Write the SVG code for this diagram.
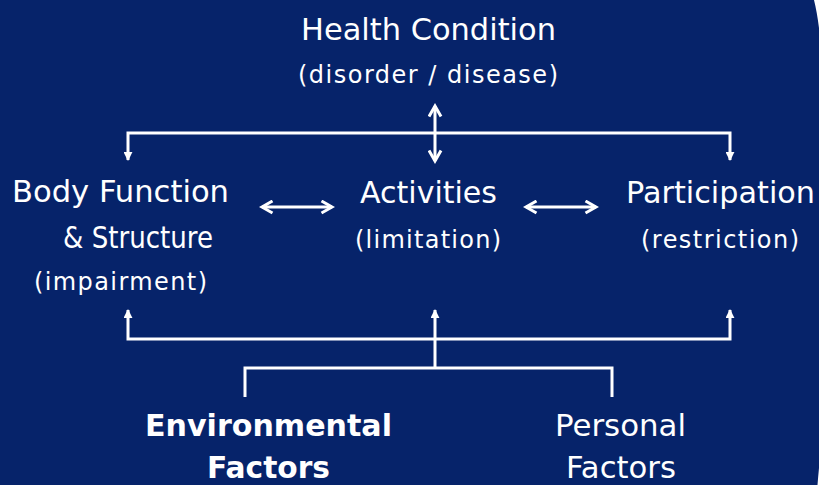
<svg xmlns="http://www.w3.org/2000/svg" width="819" height="485" viewBox="0 0 819 485">
<defs>
<style>
.t{font-family:"DejaVu Sans","Verdana",sans-serif;fill:#ffffff;text-anchor:middle}
.m{font-size:30px}
.s{font-size:24px}
.b{font-weight:bold}
.ln{stroke:#ffffff;stroke-width:3;fill:none}
</style>
<marker id="chev" viewBox="0 0 10 10" refX="8" refY="5" markerWidth="5" markerHeight="5" orient="auto-start-reverse" markerUnits="strokeWidth">
<path d="M1,1 L8,5 L1,9" fill="none" stroke="#ffffff" stroke-width="2"/>
</marker>
<marker id="tri" viewBox="0 0 10 10" refX="9" refY="5" markerWidth="3" markerHeight="3" orient="auto-start-reverse" markerUnits="strokeWidth">
<path d="M0,0 L10,5 L0,10 Z" fill="#ffffff"/>
</marker>
</defs>
<rect width="819" height="485" fill="#ffffff"/>
<path d="M0,0 H814 Q817,12 819,28 L822,28 L822,468 L819,468 Q818,478 817.5,485 H0 Z" fill="#06236A"/>
<g id="connectors">
<path class="ln" d="M128,160 V133 H730 V160" marker-start="url(#tri)" marker-end="url(#tri)"/>
<line class="ln" x1="435" y1="106" x2="435" y2="161" marker-start="url(#chev)" marker-end="url(#chev)"/>
<line class="ln" x1="262" y1="207" x2="332" y2="207" marker-start="url(#chev)" marker-end="url(#chev)"/>
<line class="ln" x1="526" y1="207" x2="596" y2="207" marker-start="url(#chev)" marker-end="url(#chev)"/>
<path class="ln" d="M128,310 V339 H730 V310" marker-start="url(#tri)" marker-end="url(#tri)"/>
<line class="ln" x1="435" y1="339" x2="435" y2="310" marker-end="url(#tri)"/>
<path class="ln" d="M435,339 V368"/>
<path class="ln" d="M245,397 V368 H612 V397"/>
</g>
<g id="health">
<text class="t m" x="428.5" y="40" textLength="255" lengthAdjust="spacingAndGlyphs">Health Condition</text>
<text class="t s" x="428" y="83" textLength="260" lengthAdjust="spacing">(disorder / disease)</text>
</g>
<g id="body">
<text class="t m" x="120.5" y="202" textLength="217" lengthAdjust="spacingAndGlyphs">Body Function</text>
<text class="t m" x="138" y="248" textLength="150" lengthAdjust="spacingAndGlyphs">&amp; Structure</text>
<text class="t s" x="120.5" y="290" textLength="173" lengthAdjust="spacing">(impairment)</text>
</g>
<g id="activities">
<text class="t m" x="428.5" y="203" textLength="137" lengthAdjust="spacingAndGlyphs">Activities</text>
<text class="t s" x="428" y="248" textLength="146" lengthAdjust="spacing">(limitation)</text>
</g>
<g id="participation">
<text class="t m" x="720.5" y="203" textLength="189" lengthAdjust="spacingAndGlyphs">Participation</text>
<text class="t s" x="720" y="248" textLength="158" lengthAdjust="spacing">(restriction)</text>
</g>
<g id="environmental">
<text class="t m b" x="268.5" y="436" textLength="247" lengthAdjust="spacingAndGlyphs">Environmental</text>
<text class="t m b" x="268.5" y="478" textLength="123" lengthAdjust="spacingAndGlyphs">Factors</text>
</g>
<g id="personal">
<text class="t m" x="620.5" y="436" textLength="131" lengthAdjust="spacingAndGlyphs">Personal</text>
<text class="t m" x="621" y="478" textLength="110" lengthAdjust="spacingAndGlyphs">Factors</text>
</g>
</svg>
